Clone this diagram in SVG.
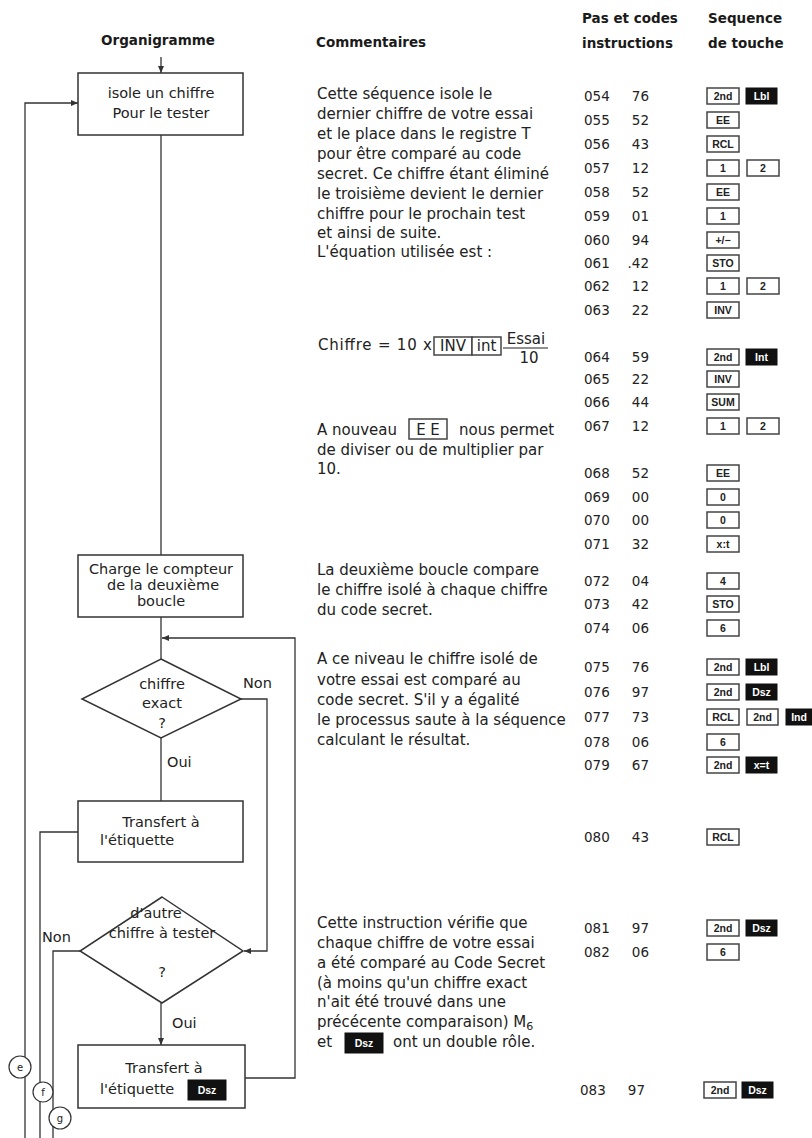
<svg xmlns="http://www.w3.org/2000/svg" width="812" height="1138" viewBox="0 0 812 1138">
  <style>
    .t { font-family: "DejaVu Sans", "Liberation Sans", sans-serif; font-size: 15px; fill: #222; }
    .h { font-family: "DejaVu Sans", "Liberation Sans", sans-serif; font-size: 13.5px; font-weight: bold; fill: #1a1a1a; }
    .fc { font-family: "DejaVu Sans", "Liberation Sans", sans-serif; font-size: 14.5px; fill: #222; text-anchor: middle; }
    .fl { font-family: "DejaVu Sans", "Liberation Sans", sans-serif; font-size: 14.5px; fill: #222; }
    .c { font-family: "DejaVu Sans", "Liberation Sans", sans-serif; font-size: 13.5px; fill: #222; }
    .ce { font-family: "DejaVu Sans", "Liberation Sans", sans-serif; font-size: 13.5px; fill: #222; text-anchor: end; }
    .box { fill: #fff; stroke: #333; stroke-width: 1.5; }
    .ln { fill: none; stroke: #333; stroke-width: 1.3; }
    .key { fill: #fff; stroke: #444; stroke-width: 1.5; }
    .bk { fill: #111; stroke: #111; stroke-width: 1; }
    .kl { font-family: "Liberation Sans", "DejaVu Sans", sans-serif; font-size: 10.5px; fill: #222; text-anchor: middle; font-weight: bold; }
    .kw { font-family: "Liberation Sans", "DejaVu Sans", sans-serif; font-size: 10.5px; fill: #fff; text-anchor: middle; font-weight: bold; }
    .lab { font-family: "DejaVu Sans", "Liberation Sans", sans-serif; font-size: 10px; fill: #222; text-anchor: middle; }
  </style>
  <defs>
    <marker id="arr" markerWidth="8" markerHeight="8" refX="7" refY="4" orient="auto" markerUnits="userSpaceOnUse">
      <path d="M0,1 L7,4 L0,7 Z" fill="#333"/>
    </marker>
  </defs>
  <rect width="812" height="1138" fill="#fff"/>

  <!-- column headings -->
  <g id="headings">
    <text class="h" x="158" y="45" text-anchor="middle">Organigramme</text>
    <text class="h" x="316" y="47">Commentaires</text>
    <text class="h" x="582" y="23">Pas et codes</text>
    <text class="h" x="582" y="48">instructions</text>
    <text class="h" x="708" y="23">Sequence</text>
    <text class="h" x="708" y="48">de touche</text>
  </g>

  <!-- flowchart connectors -->
  <g id="connectors">
    <path class="ln" d="M161,57 V73" marker-end="url(#arr)"/>
    <path class="ln" d="M25,1138 V103 H78" marker-end="url(#arr)"/>
    <path class="ln" d="M161,135 V555"/>
    <path class="ln" d="M161,617 V659"/>
    <path class="ln" d="M245,1078 H295 V638 H162" marker-end="url(#arr)"/>
    <path class="ln" d="M241,699 H267 V951 H244" marker-end="url(#arr)"/>
    <path class="ln" d="M161,738 V801"/>
    <path class="ln" d="M78,832 H40 V1138"/>
    <path class="ln" d="M80,951 H53 V1138"/>
    <path class="ln" d="M161,1003 V1045" marker-end="url(#arr)"/>
  </g>

  <!-- flowchart nodes -->
  <g id="n-isole">
    <rect class="box" x="78" y="73" width="165" height="62"/>
    <text class="fc" x="161" y="98">isole un chiffre</text>
    <text class="fc" x="161" y="118">Pour le tester</text>
  </g>
  <g id="n-compteur">
    <rect class="box" x="78" y="555" width="165" height="62"/>
    <text class="fc" x="161" y="574">Charge le compteur</text>
    <text class="fc" x="163" y="590">de la deuxième</text>
    <text class="fc" x="161" y="606">boucle</text>
  </g>
  <g id="n-exact">
    <path class="box" d="M161,659 L241,699 L161,738 L82,699 Z"/>
    <text class="fc" x="162" y="689">chiffre</text>
    <text class="fc" x="162" y="708">exact</text>
    <text class="fc" x="162" y="728">?</text>
    <text class="fl" x="243" y="688">Non</text>
    <text class="fl" x="167" y="767">Oui</text>
  </g>
  <g id="n-transfert1">
    <rect class="box" x="78" y="801" width="165" height="61"/>
    <text class="fc" x="161" y="827">Transfert à</text>
    <text class="fl" x="100" y="845">l'étiquette</text>
  </g>
  <g id="n-autre">
    <path class="box" d="M162,897 L243,951 L162,1003 L80,951 Z"/>
    <text class="fc" x="156" y="918">d'autre</text>
    <text class="fc" x="162" y="938">chiffre à tester</text>
    <text class="fc" x="162" y="977">?</text>
    <text class="fl" x="42" y="942">Non</text>
    <text class="fl" x="172" y="1028">Oui</text>
  </g>
  <g id="n-transfert2">
    <rect class="box" x="78" y="1045" width="167" height="63"/>
    <text class="fc" x="164" y="1073">Transfert à</text>
    <text class="fl" x="100" y="1094">l'étiquette</text>
    <rect class="bk" x="188" y="1080" width="38" height="20"/>
    <text class="kw" x="207" y="1094">Dsz</text>
  </g>
  <g id="n-labels">
    <circle cx="20" cy="1067" r="11" fill="#fff" stroke="#333" stroke-width="1.2"/>
    <text class="lab" x="20" y="1071">e</text>
    <circle cx="43" cy="1092" r="10" fill="#fff" stroke="#333" stroke-width="1.2"/>
    <text class="lab" x="43" y="1096">f</text>
    <circle cx="60" cy="1118" r="11" fill="#fff" stroke="#333" stroke-width="1.2"/>
    <text class="lab" x="60" y="1122">g</text>
  </g>

  <!-- comments -->
  <g id="comments">
    <text class="t" x="317" y="99">Cette séquence isole le</text>
    <text class="t" x="317" y="119">dernier chiffre de votre essai</text>
    <text class="t" x="317" y="139">et le place dans le registre T</text>
    <text class="t" x="317" y="159">pour être comparé au code</text>
    <text class="t" x="317" y="179">secret. Ce chiffre étant éliminé</text>
    <text class="t" x="317" y="199">le troisième devient le dernier</text>
    <text class="t" x="317" y="219">chiffre pour le prochain test</text>
    <text class="t" x="317" y="238">et ainsi de suite.</text>
    <text class="t" x="317" y="257">L'équation utilisée est :</text>

    <text class="t" x="318" y="350" textLength="114">Chiffre = 10 x</text>
    <rect class="key" x="434" y="337" width="38" height="18"/>
    <text class="t" x="453" y="351" text-anchor="middle">INV</text>
    <rect class="key" x="472" y="337" width="29" height="18"/>
    <text class="t" x="486.5" y="351" text-anchor="middle" font-size="13">int</text>
    <text class="t" x="526" y="344" text-anchor="middle" font-size="13">Essai</text>
    <line x1="503" y1="348" x2="548" y2="348" stroke="#222" stroke-width="1.2"/>
    <text class="t" x="529" y="363" text-anchor="middle" font-size="13">10</text>

    <text class="t" x="317" y="435">A nouveau</text>
    <rect class="key" x="409" y="419" width="38" height="20"/>
    <text class="t" x="428" y="435" text-anchor="middle">E E</text>
    <text class="t" x="459" y="435">nous permet</text>
    <text class="t" x="317" y="455">de diviser ou de multiplier par</text>
    <text class="t" x="317" y="474">10.</text>

    <text class="t" x="317" y="575">La deuxième boucle compare</text>
    <text class="t" x="317" y="595">le chiffre isolé à chaque chiffre</text>
    <text class="t" x="317" y="615">du code secret.</text>

    <text class="t" x="317" y="664">A ce niveau le chiffre isolé de</text>
    <text class="t" x="317" y="685">votre essai est comparé au</text>
    <text class="t" x="317" y="705">code secret. S'il y a égalité</text>
    <text class="t" x="317" y="725">le processus saute à la séquence</text>
    <text class="t" x="317" y="745">calculant le résultat.</text>

    <text class="t" x="317" y="928">Cette instruction vérifie que</text>
    <text class="t" x="317" y="948">chaque chiffre de votre essai</text>
    <text class="t" x="317" y="968">a été comparé au Code Secret</text>
    <text class="t" x="317" y="988">(à moins qu'un chiffre exact</text>
    <text class="t" x="317" y="1007">n'ait été trouvé dans une</text>
    <text class="t" x="317" y="1027">précécente comparaison) M<tspan font-size="11" dy="3">6</tspan></text>
    <text class="t" x="317" y="1047">et</text>
    <rect class="bk" x="345" y="1033" width="38" height="20"/>
    <text class="kw" x="364" y="1047">Dsz</text>
    <text class="t" x="393" y="1047">ont un double rôle.</text>
  </g>

  <!-- program steps and codes -->
  <g id="steps">
    <text class="c" x="584" y="101">054</text><text class="ce" x="649" y="101">76</text>
    <text class="c" x="584" y="125">055</text><text class="ce" x="649" y="125">52</text>
    <text class="c" x="584" y="149">056</text><text class="ce" x="649" y="149">43</text>
    <text class="c" x="584" y="173">057</text><text class="ce" x="649" y="173">12</text>
    <text class="c" x="584" y="197">058</text><text class="ce" x="649" y="197">52</text>
    <text class="c" x="584" y="221">059</text><text class="ce" x="649" y="221">01</text>
    <text class="c" x="584" y="245">060</text><text class="ce" x="649" y="245">94</text>
    <text class="c" x="584" y="268">061</text><text class="ce" x="649" y="268">.42</text>
    <text class="c" x="584" y="291">062</text><text class="ce" x="649" y="291">12</text>
    <text class="c" x="584" y="315">063</text><text class="ce" x="649" y="315">22</text>
    <text class="c" x="584" y="362">064</text><text class="ce" x="649" y="362">59</text>
    <text class="c" x="584" y="384">065</text><text class="ce" x="649" y="384">22</text>
    <text class="c" x="584" y="407">066</text><text class="ce" x="649" y="407">44</text>
    <text class="c" x="584" y="431">067</text><text class="ce" x="649" y="431">12</text>
    <text class="c" x="584" y="478">068</text><text class="ce" x="649" y="478">52</text>
    <text class="c" x="584" y="502">069</text><text class="ce" x="649" y="502">00</text>
    <text class="c" x="584" y="525">070</text><text class="ce" x="649" y="525">00</text>
    <text class="c" x="584" y="549">071</text><text class="ce" x="649" y="549">32</text>
    <text class="c" x="584" y="586">072</text><text class="ce" x="649" y="586">04</text>
    <text class="c" x="584" y="609">073</text><text class="ce" x="649" y="609">42</text>
    <text class="c" x="584" y="633">074</text><text class="ce" x="649" y="633">06</text>
    <text class="c" x="584" y="672">075</text><text class="ce" x="649" y="672">76</text>
    <text class="c" x="584" y="697">076</text><text class="ce" x="649" y="697">97</text>
    <text class="c" x="584" y="722">077</text><text class="ce" x="649" y="722">73</text>
    <text class="c" x="584" y="747">078</text><text class="ce" x="649" y="747">06</text>
    <text class="c" x="584" y="770">079</text><text class="ce" x="649" y="770">67</text>
    <text class="c" x="584" y="842">080</text><text class="ce" x="649" y="842">43</text>
    <text class="c" x="584" y="933">081</text><text class="ce" x="649" y="933">97</text>
    <text class="c" x="584" y="957">082</text><text class="ce" x="649" y="957">06</text>
    <text class="c" x="580" y="1095">083</text><text class="ce" x="645" y="1095">97</text>
  </g>

  <!-- key sequences -->
  <g id="keys">
    <rect class="key" x="707" y="88" width="32" height="16"/><text class="kl" x="723" y="100">2nd</text>
    <rect class="bk" x="746" y="88" width="31" height="16"/><text class="kw" x="761.5" y="100">Lbl</text>

    <rect class="key" x="707" y="112" width="32" height="16"/><text class="kl" x="723" y="124">EE</text>
    <rect class="key" x="707" y="136" width="32" height="16"/><text class="kl" x="723" y="148">RCL</text>
    <rect class="key" x="707" y="160" width="32" height="16"/><text class="kl" x="723" y="172">1</text>
    <rect class="key" x="747" y="160" width="32" height="16"/><text class="kl" x="763" y="172">2</text>
    <rect class="key" x="707" y="184" width="32" height="16"/><text class="kl" x="723" y="196">EE</text>
    <rect class="key" x="707" y="208" width="32" height="16"/><text class="kl" x="723" y="220">1</text>
    <rect class="key" x="707" y="232" width="32" height="16"/><text class="kl" x="723" y="244">+/−</text>
    <rect class="key" x="707" y="255" width="32" height="16"/><text class="kl" x="723" y="267">STO</text>
    <rect class="key" x="707" y="278" width="32" height="16"/><text class="kl" x="723" y="290">1</text>
    <rect class="key" x="747" y="278" width="32" height="16"/><text class="kl" x="763" y="290">2</text>
    <rect class="key" x="707" y="302" width="32" height="16"/><text class="kl" x="723" y="314">INV</text>

    <rect class="key" x="707" y="349" width="32" height="16"/><text class="kl" x="723" y="361">2nd</text>
    <rect class="bk" x="746" y="349" width="31" height="16"/><text class="kw" x="761.5" y="361">Int</text>
    <rect class="key" x="707" y="371" width="32" height="16"/><text class="kl" x="723" y="383">INV</text>
    <rect class="key" x="707" y="394" width="32" height="16"/><text class="kl" x="723" y="406">SUM</text>
    <rect class="key" x="707" y="418" width="32" height="16"/><text class="kl" x="723" y="430">1</text>
    <rect class="key" x="747" y="418" width="32" height="16"/><text class="kl" x="763" y="430">2</text>

    <rect class="key" x="707" y="465" width="32" height="16"/><text class="kl" x="723" y="477">EE</text>
    <rect class="key" x="707" y="489" width="32" height="16"/><text class="kl" x="723" y="501">0</text>
    <rect class="key" x="707" y="512" width="32" height="16"/><text class="kl" x="723" y="524">0</text>
    <rect class="key" x="707" y="536" width="32" height="16"/><text class="kl" x="723" y="548">x:t</text>

    <rect class="key" x="707" y="573" width="32" height="16"/><text class="kl" x="723" y="585">4</text>
    <rect class="key" x="707" y="596" width="32" height="16"/><text class="kl" x="723" y="608">STO</text>
    <rect class="key" x="707" y="620" width="32" height="16"/><text class="kl" x="723" y="632">6</text>

    <rect class="key" x="707" y="659" width="32" height="16"/><text class="kl" x="723" y="671">2nd</text>
    <rect class="bk" x="746" y="659" width="31" height="16"/><text class="kw" x="761.5" y="671">Lbl</text>
    <rect class="key" x="707" y="684" width="32" height="16"/><text class="kl" x="723" y="696">2nd</text>
    <rect class="bk" x="746" y="684" width="31" height="16"/><text class="kw" x="761.5" y="696">Dsz</text>
    <rect class="key" x="707" y="709" width="32" height="16"/><text class="kl" x="723" y="721">RCL</text>
    <rect class="key" x="747" y="709" width="31" height="16"/><text class="kl" x="762.5" y="721">2nd</text>
    <rect class="bk" x="786" y="709" width="26" height="16"/><text class="kw" x="799" y="721">Ind</text>
    <rect class="key" x="707" y="734" width="32" height="16"/><text class="kl" x="723" y="746">6</text>
    <rect class="key" x="707" y="757" width="32" height="16"/><text class="kl" x="723" y="769">2nd</text>
    <rect class="bk" x="746" y="757" width="31" height="16"/><text class="kw" x="761.5" y="769">x=t</text>

    <rect class="key" x="707" y="829" width="32" height="16"/><text class="kl" x="723" y="841">RCL</text>

    <rect class="key" x="707" y="920" width="32" height="16"/><text class="kl" x="723" y="932">2nd</text>
    <rect class="bk" x="746" y="920" width="31" height="16"/><text class="kw" x="761.5" y="932">Dsz</text>
    <rect class="key" x="707" y="944" width="32" height="16"/><text class="kl" x="723" y="956">6</text>

    <rect class="key" x="704" y="1082" width="32" height="16"/><text class="kl" x="720" y="1094">2nd</text>
    <rect class="bk" x="742" y="1082" width="31" height="16"/><text class="kw" x="757.5" y="1094">Dsz</text>
  </g>
</svg>
